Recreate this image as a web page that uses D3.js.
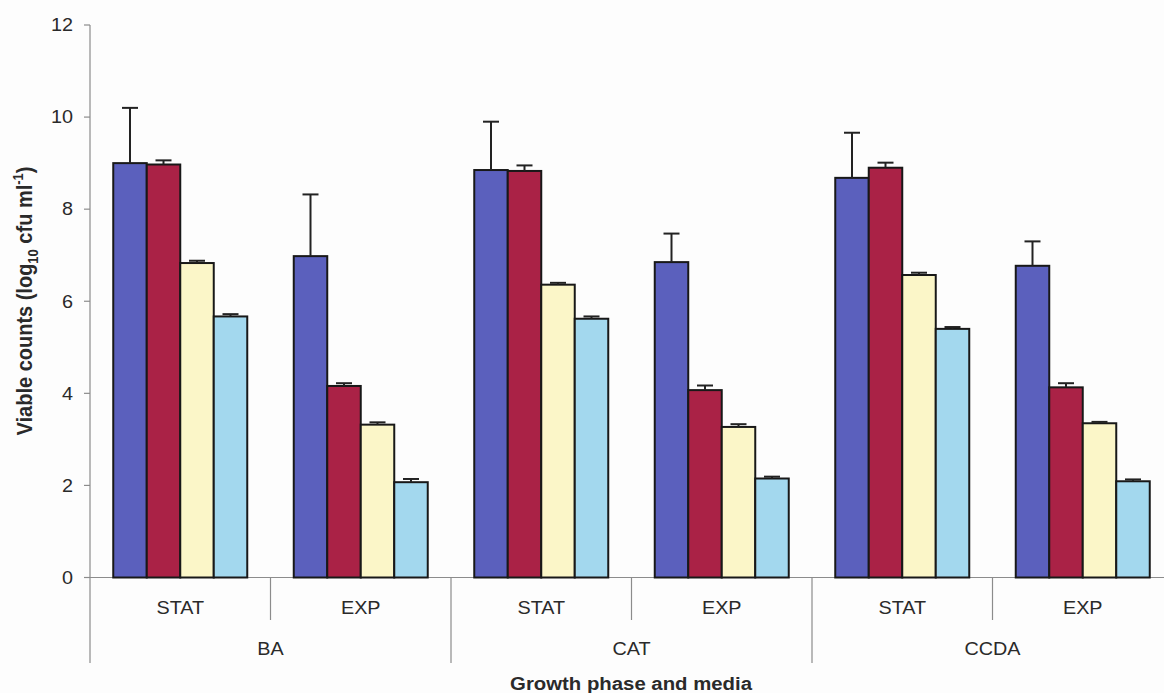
<!DOCTYPE html>
<html>
<head>
<meta charset="utf-8">
<script src="https://cdn.jsdelivr.net/npm/d3@7"></script>
<style>
  html, body { margin: 0; padding: 0; background: #fdfdfd; }
  svg { display: block; }
  text { font-family: "Liberation Sans", Arial, sans-serif; fill: #2a2a2a; }
</style>
</head>
<body>
<svg id="chart" width="1164" height="693"></svg>
<script>
// Growth phase (inner) and culture medium (outer) categories
const media = ["BA", "CAT", "CCDA"];
const phases = ["STAT", "EXP"];

// Four series of viable counts (log10 cfu/ml), one value per medium/phase group
// order: BA-STAT, BA-EXP, CAT-STAT, CAT-EXP, CCDA-STAT, CCDA-EXP
const seriesA = [9.00, 6.98, 8.85, 6.85, 8.68, 6.77];
const seriesB = [8.97, 4.16, 8.83, 4.07, 8.90, 4.13];
const seriesC = [6.83, 3.32, 6.36, 3.27, 6.57, 3.35];
const seriesD = [5.67, 2.07, 5.62, 2.15, 5.40, 2.09];

// Upper error (SD) for each series
const errA = [1.20, 1.34, 1.05, 0.62, 0.98, 0.53];
const errB = [0.09, 0.06, 0.12, 0.10, 0.11, 0.09];
const errC = [0.05, 0.05, 0.04, 0.06, 0.05, 0.03];
const errD = [0.05, 0.07, 0.05, 0.04, 0.04, 0.04];

const yTicks = [0, 2, 4, 6, 8, 10, 12];

const seriesKeys = ["A", "B", "C", "D"];
const seriesVals = { A: seriesA, B: seriesB, C: seriesC, D: seriesD };
const seriesErr = { A: errA, B: errB, C: errC, D: errD };
const colors = { A: "#5b60bd", B: "#aa2246", C: "#fbf6c8", D: "#a3d8ee" };

// group keys: medium|phase
const groups = [];
media.forEach(m => phases.forEach(p => groups.push({ medium: m, phase: p, key: m + "|" + p })));

const rows = [];
groups.forEach((g, i) => {
  seriesKeys.forEach(s => rows.push({ group: g.key, series: s, value: seriesVals[s][i], err: seriesErr[s][i] }));
});

const svg = d3.select("#chart");
const axisColor = "#8c8c8c";
const xLeft = 90, xRight = 1173;
const yBase = 577.5, yTop = 25;

const x0 = d3.scaleBand().domain(groups.map(g => g.key)).range([xLeft, xRight]).padding(0);
const x1 = d3.scaleBand().domain(seriesKeys).range([23.25, x0.bandwidth() - 23.25]).padding(0);
const y = d3.scaleLinear().domain([0, 12]).range([yBase, yTop]);

// stretched text helper (labels are slightly wide)
const sx = 1.1;
function label(parent, x, yy, txt, opts = {}) {
  const t = parent.append("text")
    .attr("transform", `translate(${x},${yy}) scale(${sx},1)`)
    .attr("text-anchor", opts.anchor || "middle")
    .style("font-size", (opts.size || 18) + "px")
    .style("font-weight", opts.bold ? "bold" : "normal");
  if (opts.dy) t.attr("dy", opts.dy);
  t.text(txt);
  return t;
}

// y axis
const yAxis = svg.append("g");
yAxis.append("line")
  .attr("x1", xLeft).attr("x2", xLeft)
  .attr("y1", yTop).attr("y2", 663)
  .attr("stroke", axisColor).attr("stroke-width", 1.2);
yTicks.forEach(t => {
  yAxis.append("line")
    .attr("x1", xLeft - 6).attr("x2", xLeft)
    .attr("y1", y(t)).attr("y2", y(t))
    .attr("stroke", axisColor).attr("stroke-width", 1.2);
  label(yAxis, 73, y(t), String(t), { anchor: "end", dy: "0.35em" });
});

// x axis baseline
svg.append("line")
  .attr("x1", xLeft - 6).attr("x2", 1164)
  .attr("y1", yBase).attr("y2", yBase)
  .attr("stroke", axisColor).attr("stroke-width", 1.2);

// separators: short between phases, long between media
groups.forEach((g, i) => {
  if (i === 0) return;
  const xx = x0(g.key);
  const isMedium = g.phase === phases[0];
  svg.append("line")
    .attr("x1", xx).attr("x2", xx)
    .attr("y1", yBase).attr("y2", isMedium ? 663 : 620)
    .attr("stroke", axisColor).attr("stroke-width", 1.2);
});

// phase labels
groups.forEach(g => {
  label(svg, x0(g.key) + x0.bandwidth() / 2, 614, g.phase);
});
// medium labels
media.forEach(m => {
  const a = x0(m + "|" + phases[0]);
  label(svg, a + x0.bandwidth(), 655, m);
});

// bars
const barG = svg.append("g");
barG.selectAll("rect").data(rows).join("rect")
  .attr("x", d => x0(d.group) + x1(d.series))
  .attr("width", x1.bandwidth())
  .attr("y", d => y(d.value))
  .attr("height", d => y(0) - y(d.value))
  .attr("fill", d => colors[d.series])
  .attr("stroke", "#181818")
  .attr("stroke-width", 2);

// error bars (upper only)
const errG = svg.append("g").attr("stroke", "#222").attr("stroke-width", 2);
rows.forEach(d => {
  const cx = x0(d.group) + x1(d.series) + x1.bandwidth() / 2;
  errG.append("line")
    .attr("x1", cx).attr("x2", cx)
    .attr("y1", y(d.value)).attr("y2", y(d.value + d.err));
  errG.append("line")
    .attr("x1", cx - 8).attr("x2", cx + 8)
    .attr("y1", y(d.value + d.err)).attr("y2", y(d.value + d.err));
});

// axis titles
label(svg, 631, 690, "Growth phase and media", { bold: true, size: 18.5 });

const yl = svg.append("text")
  .attr("transform", `translate(32,301) scale(${sx},1) rotate(-90)`)
  .attr("text-anchor", "middle")
  .style("font-size", "20px")
  .style("font-weight", "bold");
yl.append("tspan").text("Viable counts (log");
yl.append("tspan").attr("dy", 5).style("font-size", "13px").text("10");
yl.append("tspan").attr("dy", -5).text(" cfu ml");
yl.append("tspan").attr("dy", -8).style("font-size", "13px").text("-1");
yl.append("tspan").attr("dy", 8).text(")");
</script>
</body>
</html>
